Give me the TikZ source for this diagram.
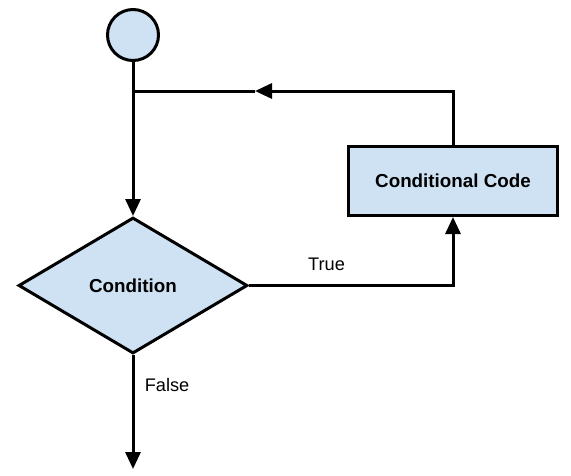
\documentclass[tikz,border=0pt]{standalone}
\usepackage{fontspec}
\setmainfont{Liberation Sans}
\usepackage{tikz}
\usetikzlibrary{positioning, arrows.meta, shapes.geometric}
\definecolor{flowBlue}{HTML}{CFE2F3}
\definecolor{flowInk}{HTML}{000000}

\begin{document}
\begin{tikzpicture}[x=1pt, y=-1pt, line width=3pt,
    box/.style={draw=flowInk, fill=flowBlue,
      font=\fontsize{18.8}{22}\selectfont\bfseries},
    flow/.style={draw=flowInk, -{Triangle[length=17pt, width=15pt]}},
    lbl/.style={font=\fontsize{18.2}{22}\selectfont}]
  \useasboundingbox (0,0) rectangle (571,475);
  % ---- shapes ----
  \node[box, circle, minimum size=51pt, inner sep=0pt] (start) at (133,35) {};
  \node[box, diamond, minimum width=229pt, minimum height=136pt,
        inner sep=0pt] (cond) at (133,285.5) {Condition};
  \node[box, rectangle, minimum width=209pt, minimum height=69pt]
    (code) at (453,181) {Conditional Code};
  \coordinate (join) at (133,91);
  \coordinate (back) at (255,91);
  \coordinate (exit) at (133,469);
  % ---- connectors ----
  \draw[flow] (start) -- (cond);
  \draw[flow] (cond.east) -| node[lbl, pos=0.19, above=10pt] {True}
    (code.south);
  \draw[flow] (cond.south) -- node[lbl, pos=0.26, right=7pt] {False}
    (exit);
  \draw[flow] (code.north) |- (back);
  \draw (back) -- (join);
\end{tikzpicture}
\end{document}
